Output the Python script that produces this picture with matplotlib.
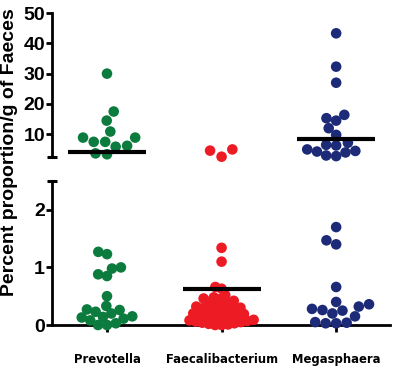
import numpy as np
import matplotlib
matplotlib.use("Agg")
import matplotlib.pyplot as plt

# ---------------- data ----------------
categories = ["Prevotella", "Faecalibacterium", "Megasphaera"]

prevotella = [30.0, 17.5, 14.5, 10.9, 8.9, 8.9, 7.5, 7.5, 6.2, 5.9, 3.7, 3.4,
              1.27, 1.23, 1.0, 0.98, 0.88, 0.85, 0.5, 0.33, 0.27, 0.26, 0.23,
              0.2, 0.15, 0.14, 0.13, 0.11, 0.08, 0.03, 0.0, 0.0]
faecalibacterium = [5.0, 4.6, 2.6,
                    1.34, 1.10, 0.66, 0.63, 0.52, 0.48, 0.46, 0.45, 0.42, 0.40,
                    0.38, 0.36, 0.34, 0.32, 0.30, 0.29, 0.28, 0.26, 0.25, 0.23,
                    0.22, 0.20, 0.19, 0.18, 0.16, 0.15, 0.14, 0.12, 0.11, 0.10,
                    0.09, 0.08, 0.07, 0.06, 0.05, 0.04, 0.03, 0.02, 0.01, 0.0, 0.0]
megasphaera = [43.3, 32.3, 27.0, 16.4, 15.3, 14.5, 12.0, 9.8, 7.2, 6.5, 6.3,
               5.0, 4.5, 4.3, 4.0, 3.0, 2.8,
               1.7, 1.47, 1.4, 0.66, 0.4, 0.36, 0.32, 0.28, 0.26, 0.25, 0.2,
               0.15, 0.05, 0.04, 0.03, 0.03]
series = [prevotella, faecalibacterium, megasphaera]
mean_lines = [4.25, 0.62, 8.3]

colors = ["#0b7b3e", "#ed1c24", "#1c2a78"]

upper_ticks = [10, 20, 30, 40, 50]
lower_ticks = [0, 1, 2]
break_value = 2.5
upper_max = 50
ylabel = "Percent proportion/g of Faeces"

main_font = ["Liberation Sans", "DejaVu Sans"]

W, H = 397, 372
fig = plt.figure(figsize=(W / 100, H / 100), dpi=100)
left_px, right_px = 52, 390
ax_hi = fig.add_axes([left_px / W, 1 - 157 / H, (right_px - left_px) / W, 144 / H])
ax_lo = fig.add_axes([left_px / W, 1 - 325 / H, (right_px - left_px) / W, 144 / H])

xlim = (-0.48, 2.47)
for ax in (ax_hi, ax_lo):
    ax.set_xlim(*xlim)
    ax.spines["top"].set_visible(False)
    ax.spines["right"].set_visible(False)
    ax.spines["left"].set_linewidth(2.0)
    ax.spines["bottom"].set_linewidth(2.0)
    ax.patch.set_alpha(0)
    ax.tick_params(axis="y", length=4, width=2.0, pad=1, labelsize=14)

ax_hi.set_ylim(break_value, upper_max)
ax_lo.set_ylim(0, break_value)
ax_hi.spines["bottom"].set_visible(False)
ax_hi.set_xticks([])
ax_hi.set_yticks(upper_ticks)
ax_lo.set_yticks(lower_ticks)
ax_lo.set_xticks(range(len(categories)))
ax_lo.set_xticklabels(categories)
ax_lo.tick_params(axis="x", length=5, width=2.0, pad=15, labelsize=9.3)

for ax in (ax_hi, ax_lo):
    for lab in ax.get_yticklabels():
        lab.set_fontfamily(main_font)
        lab.set_fontweight("bold")
for lab in ax_lo.get_xticklabels():
    lab.set_fontfamily(["DejaVu Sans"])
    lab.set_fontstretch("condensed")
    lab.set_fontweight("bold")

# break caps at the ends of the y spines
ax_hi.plot([0], [0], transform=ax_hi.transAxes, marker="_", ms=7, mew=2.2,
           color="black", clip_on=False, zorder=5)
ax_lo.plot([0], [1], transform=ax_lo.transAxes, marker="_", ms=7, mew=2.2,
           color="black", clip_on=False, zorder=5)


def swarm_offsets(ax, x0, values, d):
    """Greedy beeswarm in display pixels; returns data-x positions."""
    if len(values) == 0:
        return np.array([])
    vals = np.asarray(values, float)
    pts = ax.transData.transform(np.column_stack([np.full(len(vals), x0), vals]))
    ys = pts[:, 1]
    px_per_unit = ax.transData.transform((1, 0))[0] - ax.transData.transform((0, 0))[0]
    order = np.argsort(ys, kind="stable")
    placed = []
    offs = np.zeros(len(vals))
    for i in order:
        y = ys[i]
        cands = [0.0]
        for xo, yo in placed:
            dy = y - yo
            if abs(dy) < d:
                dx = np.sqrt(d * d - dy * dy)
                cands += [xo + dx, xo - dx]
        cands.sort(key=lambda c: (abs(c), c))
        chosen = cands[-1]
        for c in cands:
            if all((c - xo) ** 2 + (y - yo) ** 2 >= d * d - 1e-6 for xo, yo in placed):
                chosen = c
                break
        placed.append((chosen, y))
        offs[i] = chosen
    return x0 + offs / px_per_unit


upper_spacing = [11.5, 13.0, 10.0]
lower_spacing = [9.0, 6.5, 10.5]
for i, (vals, col) in enumerate(zip(series, colors)):
    vals = np.asarray(vals, float)
    hi = vals[vals >= break_value]
    lo = vals[vals < break_value]
    for ax, part, d in ((ax_hi, hi, upper_spacing[i]), (ax_lo, lo, lower_spacing[i])):
        xs = swarm_offsets(ax, i, part, d)
        ax.scatter(xs, part, s=58, color=col, edgecolors="none", zorder=3, clip_on=False)
    m = mean_lines[i]
    ax = ax_hi if m >= break_value else ax_lo
    ax.plot([i - 0.34, i + 0.34], [m, m], color="black", lw=3.0, zorder=4,
            solid_capstyle="butt")

fig.text(10 / W, 1 - 152 / H, ylabel, rotation=90, ha="center", va="center",
         fontsize=14, fontweight="bold", family=main_font)

fig.savefig("out.png", dpi=100)
